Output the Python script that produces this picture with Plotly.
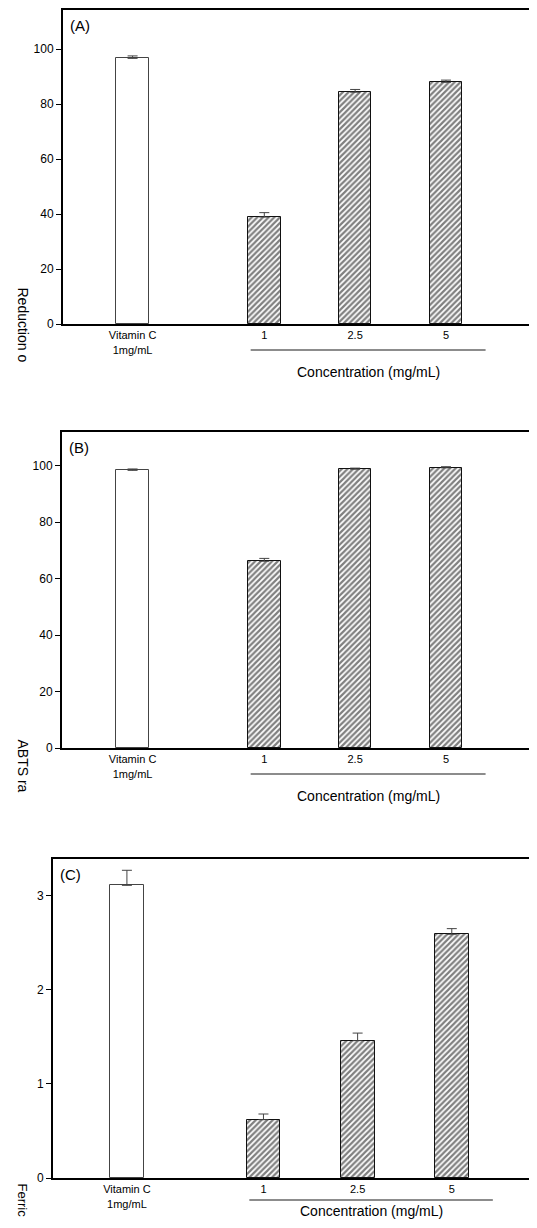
import plotly.graph_objects as go

# ---------------- data ----------------
categories = ["Vitamin C<br>1mg/mL", "1", "2.5", "5"]
panel_labels = ["(A)", "(B)", "(C)"]
y_titles = ["Reduction o", "ABTS ra", "Ferric"]
x_title = "Concentration (mg/mL)"

dpph_values = [96.6, 38.9, 84.3, 87.9]
dpph_errors = [0.9, 1.6, 1.0, 0.8]

abts_values = [98.4, 66.2, 98.8, 99.3]
abts_errors = [0.5, 1.0, 0.4, 0.4]

ferric_values = [3.11, 0.62, 1.46, 2.59]
ferric_errors = [0.16, 0.06, 0.08, 0.06]

y_ticks_pct = [0, 20, 40, 60, 80, 100]
y_ticks_abs = [0, 1, 2, 3]

# ---------------- layout constants ----------------
W, H = 537, 1228          # window size
OFF = 8                   # default page body margin
FW, FH = W - 2 * OFF, H - 2 * OFF


def X(px):
    return (px - OFF) / FW


def Y(py):
    return 1 - (py - OFF) / FH


xpos = [0, 1.45, 2.45, 3.45]
bar_w = 0.36
FONT = "Liberation Sans, Arial, sans-serif"

panels = [
    dict(vals=dpph_values, errs=dpph_errors, left=63, right=535, top=10, bottom=324,
         xr=[-0.766, 4.364], yr=[0, 114.2], ticks=y_ticks_pct, line=350, lab=372),
    dict(vals=abts_values, errs=abts_errors, left=62, right=535, top=432, bottom=748,
         xr=[-0.777, 4.364], yr=[0, 112], ticks=y_ticks_pct, line=774, lab=796),
    dict(vals=ferric_values, errs=ferric_errors, left=53, right=536, top=859, bottom=1178,
         xr=[-0.785, 4.27], yr=[0, 3.39], ticks=y_ticks_abs, line=1200, lab=1211),
]

fig = go.Figure()
shapes, annotations = [], []

for i, p in enumerate(panels):
    n = "" if i == 0 else str(i + 1)
    xa, ya = "x" + n, "y" + n
    # vitamin C bar (plain white)
    fig.add_trace(go.Bar(
        x=[xpos[0]], y=[p["vals"][0]], width=bar_w, xaxis=xa, yaxis=ya,
        marker=dict(color="white", line=dict(color="#444", width=1)),
        error_y=dict(type="data", array=[p["errs"][0]], arrayminus=[0], symmetric=False,
                     color="#444", thickness=1, width=5),
        showlegend=False))
    # hatched concentration bars
    fig.add_trace(go.Bar(
        x=xpos[1:], y=p["vals"][1:], width=bar_w, xaxis=xa, yaxis=ya,
        marker=dict(color="white", line=dict(color="#111", width=1),
                    pattern=dict(shape="/", fgcolor="black", bgcolor="white",
                                 size=4, solidity=0.55)),
        error_y=dict(type="data", array=p["errs"][1:], arrayminus=[0] * 3, symmetric=False,
                     color="#444", thickness=1, width=5),
        showlegend=False))

    xd = [max(0, X(p["left"])), min(1, X(p["right"]))]
    yd = [Y(p["bottom"]), min(1, Y(p["top"]))]
    fig.update_layout(**{
        "xaxis" + n: dict(domain=xd, range=p["xr"], anchor=ya, tickvals=xpos,
                          ticktext=categories, ticks="", showgrid=False, zeroline=False,
                          showline=True, linecolor="black", linewidth=2, mirror=True,
                          automargin=False,
                          tickfont=dict(family=FONT, size=11, color="black")),
        "yaxis" + n: dict(domain=yd, range=p["yr"], anchor=xa, tickvals=p["ticks"],
                          ticks="outside", ticklen=5, tickcolor="black", showgrid=False,
                          zeroline=False, showline=True, linecolor="black", linewidth=2,
                          mirror=True, automargin=False,
                          tickfont=dict(family=FONT, size=12, color="black")),
    })

    # grey underline for concentration group and label
    line_y = Y(p["line"])
    shapes.append(dict(type="line", xref=xa, yref="paper", x0=1.30, x1=3.886,
                       y0=line_y, y1=line_y, line=dict(color="#666", width=1.5)))
    annotations.append(dict(text=x_title, xref=xa, yref="paper", x=2.593,
                            y=Y(p["lab"]), showarrow=False,
                            font=dict(family=FONT, size=14, color="black"),
                            xanchor="center", yanchor="middle"))
    # panel label
    annotations.append(dict(text=panel_labels[i], xref="paper", yref="paper",
                            x=X(p["left"] + 5), y=Y(p["top"] + 5),
                            showarrow=False, xanchor="left", yanchor="top",
                            font=dict(family=FONT, size=15, color="black")))

# clipped y-axis titles (rotated, reading downwards)
title_starts = [285, 737, 1181]
title_sizes = [14, 14, 13]
for t, ys, fs in zip(y_titles, title_starts, title_sizes):
    annotations.append(dict(text=t, xref="paper", yref="paper", x=X(13), y=Y(ys),
                            showarrow=False, textangle=90, xanchor="left", yanchor="top",
                            font=dict(family=FONT, size=fs, color="black")))

fig.update_layout(width=FW, height=FH, margin=dict(l=0, r=0, t=0, b=0, autoexpand=False),
                  paper_bgcolor="white", plot_bgcolor="white", bargap=0,
                  shapes=shapes, annotations=annotations)

fig.write_html("out.html")
